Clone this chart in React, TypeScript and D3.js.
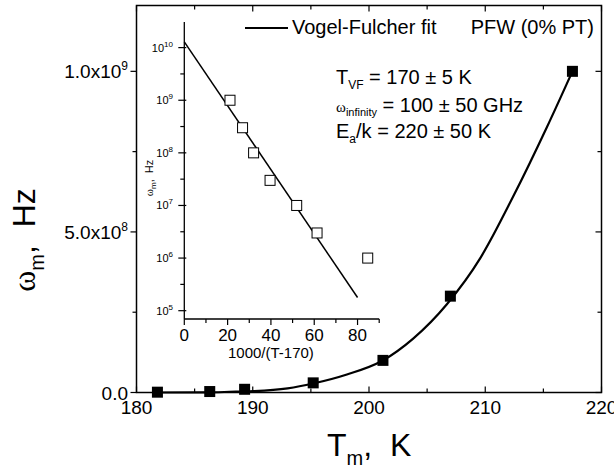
import React from "react";
import * as d3 from "d3";

// ---- data ----
const mainT = [181.8, 186.3, 189.3, 195.2, 201.2, 207.0, 217.5];
const mainOmega = [1e6, 3e6, 1e7, 3e7, 1e8, 3e8, 1e9];

const fitT = [181.8, 186, 188, 190, 193, 195.2, 198.1, 201.1, 203.8, 206.7, 209.6, 212.4, 215.3, 217.5];
const fitOmega = [0, 0.0005e9, 0.002e9, 0.004e9, 0.013e9, 0.028e9, 0.056e9, 0.098e9, 0.168e9, 0.275e9, 0.42e9, 0.61e9, 0.826e9, 1.0e9];

const insetX = [21.1, 26.9, 32.0, 39.6, 51.9, 61.3, 84.7];
const insetOmega = [1e9, 3e8, 1e8, 3e7, 1e7, 3e6, 1e6];
const insetLineX = [0, 80];
const insetLineOmega = [1.29e10, 1.78e5];

const xTicks = [180, 190, 200, 210, 220];
const xMinor = [185, 195, 205, 215];
const yTicks = [0, 5e8, 1e9];
const yTickMant = ["0.0", "5.0x10", "1.0x10"];
const yTickExp = ["", "8", "9"];
const yMinor = [2.5e8, 7.5e8];

const insetXTicks = [0, 20, 40, 60, 80];
const insetXMinor = [10, 30, 50, 70, 90];
const insetYExp = [5, 6, 7, 8, 9, 10];

const SANS = "'Liberation Sans', Arial, sans-serif";
const SERIF = "'Liberation Serif', 'Times New Roman', serif";

export default function App() {
  const W = 614, H = 473;
  const x = d3.scaleLinear().domain([180, 220]).range([136.5, 601.5]);
  const y = d3.scaleLinear().domain([0, 1.205e9]).range([392.5, 5.5]);

  const xi = d3.scaleLinear().domain([0, 90]).range([184.3, 379.2]);
  const yi = d3.scaleLog().domain([Math.pow(10, 4.842), Math.pow(10, 10.487)]).range([319, 22]);

  const fitLine = d3
    .line<number>()
    .x((_, i) => x(fitT[i]))
    .y((d) => y(d))
    .curve(d3.curveMonotoneX)(fitOmega) as string;

  const insetLine = d3
    .line<number>()
    .x((_, i) => xi(insetLineX[i]))
    .y((d) => yi(d))(insetLineOmega) as string;

  const [x0, x1] = x.range();
  const [yb, yt] = y.range();
  const sq = 11;
  const sqi = 10;

  const insetHalfDecades = insetYExp.slice(0, -1).map((e) => Math.pow(10, e + 0.5));

  return (
    <svg width={W} height={H} style={{ position: "absolute", left: 0, top: 0, background: "#fff" }}>
      <rect x={0} y={0} width={W} height={H} fill="#fff" />
      {/* main frame */}
      <rect x={x0} y={yt} width={x1 - x0} height={yb - yt} fill="none" stroke="#000" strokeWidth={1.5} />

      {/* bottom & top ticks */}
      {xTicks.map((t) => (
        <g key={"xt" + t}>
          <line x1={x(t)} x2={x(t)} y1={yb} y2={yb - 6} stroke="#000" strokeWidth={1.2} />
          <line x1={x(t)} x2={x(t)} y1={yt} y2={yt + 6} stroke="#000" strokeWidth={1.2} />
          <text x={x(t)} y={414} textAnchor="middle" fontFamily={SANS} fontSize={19}>
            {t}
          </text>
        </g>
      ))}
      {xMinor.map((t) => (
        <g key={"xm" + t}>
          <line x1={x(t)} x2={x(t)} y1={yb} y2={yb - 4} stroke="#000" strokeWidth={1.2} />
          <line x1={x(t)} x2={x(t)} y1={yt} y2={yt + 4} stroke="#000" strokeWidth={1.2} />
        </g>
      ))}

      {/* left & right ticks */}
      {yTicks.map((t, i) => (
        <g key={"yt" + t}>
          <line x1={x0} x2={x0 - 6} y1={y(t)} y2={y(t)} stroke="#000" strokeWidth={1.2} />
          <line x1={x1} x2={x1 - 6} y1={y(t)} y2={y(t)} stroke="#000" strokeWidth={1.2} />
          <text x={128} y={y(t) + 7} textAnchor="end" fontFamily={SANS} fontSize={19}>
            {yTickMant[i]}
            {yTickExp[i] && (
              <tspan fontSize={12} dy={-8}>
                {yTickExp[i]}
              </tspan>
            )}
          </text>
        </g>
      ))}
      {yMinor.map((t) => (
        <g key={"ym" + t}>
          <line x1={x0} x2={x0 - 4} y1={y(t)} y2={y(t)} stroke="#000" strokeWidth={1.2} />
          <line x1={x1} x2={x1 - 4} y1={y(t)} y2={y(t)} stroke="#000" strokeWidth={1.2} />
        </g>
      ))}

      {/* axis titles */}
      <text x={327} y={456} fontFamily={SANS} fontSize={32} style={{ whiteSpace: "pre" }}>
        T<tspan fontSize={20} dy={9}>m</tspan>
        <tspan dy={-9}>,  K</tspan>
      </text>
      <g transform="translate(35,240) rotate(-90)">
        <text x={0} y={0} textAnchor="middle" fontFamily={SANS} fontSize={32} style={{ whiteSpace: "pre" }}>
          <tspan fontFamily={SERIF}>ω</tspan>
          <tspan fontSize={20} dy={9}>m</tspan>
          <tspan dy={-9}>,  Hz</tspan>
        </text>
      </g>

      {/* main fit curve & data */}
      <path d={fitLine} fill="none" stroke="#000" strokeWidth={2.2} />
      {mainT.map((t, i) => (
        <rect key={"m" + i} x={x(t) - sq / 2} y={y(mainOmega[i]) - sq / 2} width={sq} height={sq} fill="#000" />
      ))}

      {/* legend & annotations */}
      <line x1={245} x2={288} y1={28} y2={28} stroke="#000" strokeWidth={2} />
      <text x={292} y={34} fontFamily={SANS} fontSize={20}>
        Vogel-Fulcher fit
      </text>
      <text x={594} y={34} textAnchor="end" fontFamily={SANS} fontSize={20}>
        PFW (0% PT)
      </text>
      <text x={336} y={84} fontFamily={SANS} fontSize={20}>
        T<tspan fontSize={12} dy={5}>VF</tspan>
        <tspan dy={-5}> = 170 ± 5 K</tspan>
      </text>
      <text x={336} y={112} fontFamily={SANS} fontSize={20}>
        <tspan fontFamily={SERIF} fontSize={15}>ω</tspan>
        <tspan fontSize={11} dy={4}>infinity</tspan>
        <tspan dy={-4}> = 100 ± 50 GHz</tspan>
      </text>
      <text x={336} y={138} fontFamily={SANS} fontSize={20}>
        E<tspan fontSize={12} dy={5}>a</tspan>
        <tspan dy={-5}>/k = 220 ± 50 K</tspan>
      </text>

      {/* inset axes */}
      <line x1={xi(0)} x2={xi(0)} y1={yi.range()[0]} y2={yi.range()[1]} stroke="#000" strokeWidth={1.3} />
      <line x1={xi(0)} x2={xi(90)} y1={yi.range()[0]} y2={yi.range()[0]} stroke="#000" strokeWidth={1.3} />
      {insetYExp.map((e) => (
        <g key={"iy" + e}>
          <line x1={xi(0) - 6} x2={xi(0) + 2} y1={yi(Math.pow(10, e))} y2={yi(Math.pow(10, e))} stroke="#000" strokeWidth={1.2} />
          <text x={173} y={yi(Math.pow(10, e)) + 4} textAnchor="end" fontFamily={SANS} fontSize={11}>
            10<tspan fontSize={8} dy={-5}>{e}</tspan>
          </text>
        </g>
      ))}
      {insetHalfDecades.map((v, i) => (
        <line key={"ihm" + i} x1={xi(0) - 4} x2={xi(0)} y1={yi(v)} y2={yi(v)} stroke="#000" strokeWidth={1.2} />
      ))}
      {insetXTicks.map((t) => (
        <g key={"ix" + t}>
          <line x1={xi(t)} x2={xi(t)} y1={yi.range()[0]} y2={yi.range()[0] + 6} stroke="#000" strokeWidth={1.2} />
          <text x={xi(t)} y={341} textAnchor="middle" fontFamily={SANS} fontSize={17}>
            {t}
          </text>
        </g>
      ))}
      {insetXMinor.map((t) => (
        <line key={"ixm" + t} x1={xi(t)} x2={xi(t)} y1={yi.range()[0]} y2={yi.range()[0] + 4} stroke="#000" strokeWidth={1.2} />
      ))}
      <text x={xi(40)} y={358} textAnchor="middle" fontFamily={SANS} fontSize={15}>
        1000/(T-170)
      </text>
      <g transform="translate(153,178) rotate(-90)">
        <text x={0} y={0} textAnchor="middle" fontFamily={SANS} fontSize={11} style={{ whiteSpace: "pre" }}>
          <tspan fontFamily={SERIF}>ω</tspan>
          <tspan fontSize={8} dy={3}>m</tspan>
          <tspan dy={-3}>,  Hz</tspan>
        </text>
      </g>

      {/* inset fit line & data */}
      <path d={insetLine} fill="none" stroke="#000" strokeWidth={1.5} />
      {insetX.map((v, i) => (
        <rect
          key={"i" + i}
          x={xi(v) - sqi / 2}
          y={yi(insetOmega[i]) - sqi / 2}
          width={sqi}
          height={sqi}
          fill="#fff"
          stroke="#000"
          strokeWidth={1}
        />
      ))}
    </svg>
  );
}
